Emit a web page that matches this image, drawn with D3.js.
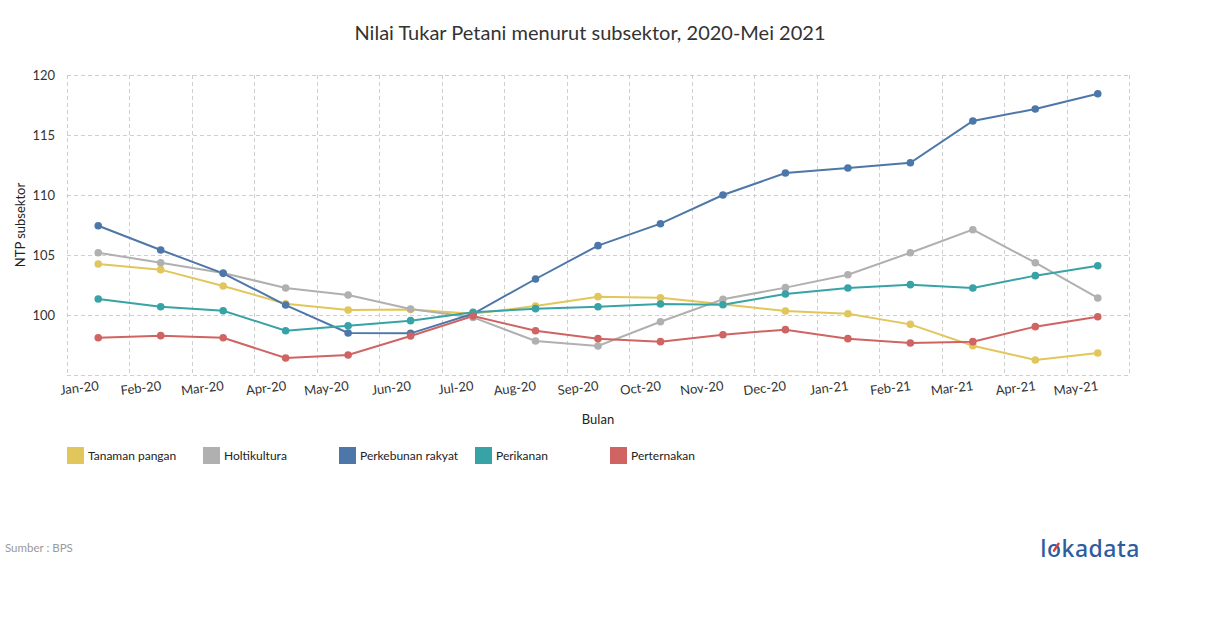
<!DOCTYPE html>
<html><head><meta charset="utf-8">
<script src="https://cdn.jsdelivr.net/npm/d3@7"></script>
<style>
body{margin:0;background:#fff;font-family:Lato,"Open Sans",sans-serif;}
svg{display:block}
</style></head>
<body>
<svg id="chart" width="1210" height="628"></svg>
<script>
const months = ["Jan-20","Feb-20","Mar-20","Apr-20","May-20","Jun-20","Jul-20","Aug-20","Sep-20","Oct-20","Nov-20","Dec-20","Jan-21","Feb-21","Mar-21","Apr-21","May-21"];
const seriesNames = ["Tanaman pangan","Holtikultura","Perkebunan rakyat","Perikanan","Perternakan"];
const tanamanPangan = [104.25,103.78,102.42,100.94,100.42,100.45,100.1,100.75,101.53,101.44,100.9,100.33,100.11,99.22,97.44,96.25,96.83];
const holtikultura  = [105.19,104.36,103.5,102.25,101.67,100.5,99.8,97.83,97.42,99.44,101.31,102.28,103.36,105.19,107.11,104.36,101.42];
const perkebunan    = [107.44,105.42,103.47,100.83,98.5,98.47,100.1,103.0,105.78,107.61,110.0,111.83,112.25,112.69,116.17,117.17,118.44];
const perikanan     = [101.33,100.69,100.36,98.69,99.11,99.53,100.22,100.53,100.69,100.92,100.86,101.75,102.25,102.53,102.25,103.28,104.11];
const perternakan   = [98.11,98.28,98.11,96.42,96.67,98.25,99.92,98.69,98.03,97.78,98.36,98.78,98.03,97.67,97.78,99.03,99.86];
const yTicks = [100,105,110,115,120];
const colors = ["#e1c65b","#b0b0b0","#4e77a9","#38a3a6","#cf6462"];
const allSeries = [tanamanPangan, holtikultura, perkebunan, perikanan, perternakan];

const svg = d3.select("#chart");
const pL = 67, pR = 1129, pT = 75, pB = 375;

const x = d3.scaleBand().domain(months).range([pL, pR]).padding(0);
const y = d3.scaleLinear().domain([95,120]).range([pB, pT]);

// title
svg.append("text").attr("x", 590).attr("y", 40).attr("text-anchor","middle")
  .attr("font-size", 20).attr("fill","#333").text("Nilai Tukar Petani menurut subsektor, 2020-Mei 2021");

// grid
const grid = svg.append("g").attr("stroke","#cfcfcf").attr("stroke-dasharray","4,3").attr("stroke-width",1);
const hLines = [95].concat(yTicks);
grid.selectAll("line.h").data(hLines).enter().append("line")
  .attr("x1", pL).attr("x2", pR).attr("y1", d=>Math.round(y(d))+0.5).attr("y2", d=>Math.round(y(d))+0.5);
const vBounds = months.map(m => x(m)).concat([pR]);
grid.selectAll("line.v").data(vBounds).enter().append("line")
  .attr("y1", pT).attr("y2", pB).attr("x1", d=>Math.round(d)+0.5).attr("x2", d=>Math.round(d)+0.5);

// y axis
const yAxis = d3.axisLeft(y).tickValues(yTicks).tickSize(0).tickPadding(12);
const yg = svg.append("g").attr("transform",`translate(${pL},0)`).call(yAxis);
yg.select(".domain").remove();
yg.selectAll("text").attr("font-family","Lato, sans-serif").attr("font-size",13).attr("fill","#333");

// x axis
const xAxis = d3.axisBottom(x).tickSize(0).tickPadding(0);
const xg = svg.append("g").attr("transform",`translate(0,${pB})`).call(xAxis);
xg.select(".domain").remove();
xg.selectAll("text").attr("font-family","Lato, sans-serif").attr("font-size",13).attr("fill","#333")
  .attr("dy", null).attr("y", 0)
  .attr("transform","translate(1,15) rotate(-7)").attr("text-anchor","end");

// axis titles
svg.append("text").attr("x", (pL+pR)/2).attr("y", 424).attr("text-anchor","middle")
  .attr("font-size",13).attr("fill","#222").text("Bulan");
svg.append("text").attr("transform",`translate(25,${(pT+pB)/2}) rotate(-90)`).attr("text-anchor","middle")
  .attr("font-size",13).attr("fill","#222").text("NTP subsektor");

// lines
const line = d3.line().x((d,i)=>x(months[i])+x.bandwidth()/2).y(d=>y(d));
allSeries.forEach((s, k) => {
  svg.append("path").datum(s).attr("d", line).attr("fill","none")
    .attr("stroke", colors[k]).attr("stroke-width", 2);
});
allSeries.forEach((s, k) => {
  svg.append("g").selectAll("circle").data(s).enter().append("circle")
    .attr("cx",(d,i)=>x(months[i])+x.bandwidth()/2).attr("cy", d=>y(d)).attr("r", 3.8)
    .attr("fill", colors[k]);
});

// legend
const legendX = [67,203,339,475,610];
const lg = svg.append("g");
seriesNames.forEach((n,k)=>{
  lg.append("rect").attr("x", legendX[k]).attr("y", 447).attr("width",17).attr("height",17).attr("fill",colors[k]);
  lg.append("text").attr("x", legendX[k]+21).attr("y", 460).attr("font-size",12).attr("fill","#222").text(n);
});

// source
svg.append("text").attr("x",5).attr("y",552).attr("font-size",11.5).attr("fill","#999").text("Sumber : BPS");

// logo
const logo = svg.append("text").attr("x",1140).attr("y",557).attr("text-anchor","end").attr("font-size",23)
  .attr("font-family","'Noto Sans', sans-serif").attr("font-weight",500)
  .attr("letter-spacing",0.5)
  .attr("fill","#2d5c9f").text("lokadata");
try {
  const ext = logo.node().getExtentOfChar(1);
  const cx = ext.x + ext.width/2 - 0.3, cyy = 557 - 6.3;
  svg.append("line").attr("x1",cx).attr("y1",cyy).attr("x2",cx+4.5).attr("y2",cyy-7)
    .attr("stroke","#e0393b").attr("stroke-width",2.4).attr("stroke-linecap","round");
} catch(e) {}
</script>
</body></html>
